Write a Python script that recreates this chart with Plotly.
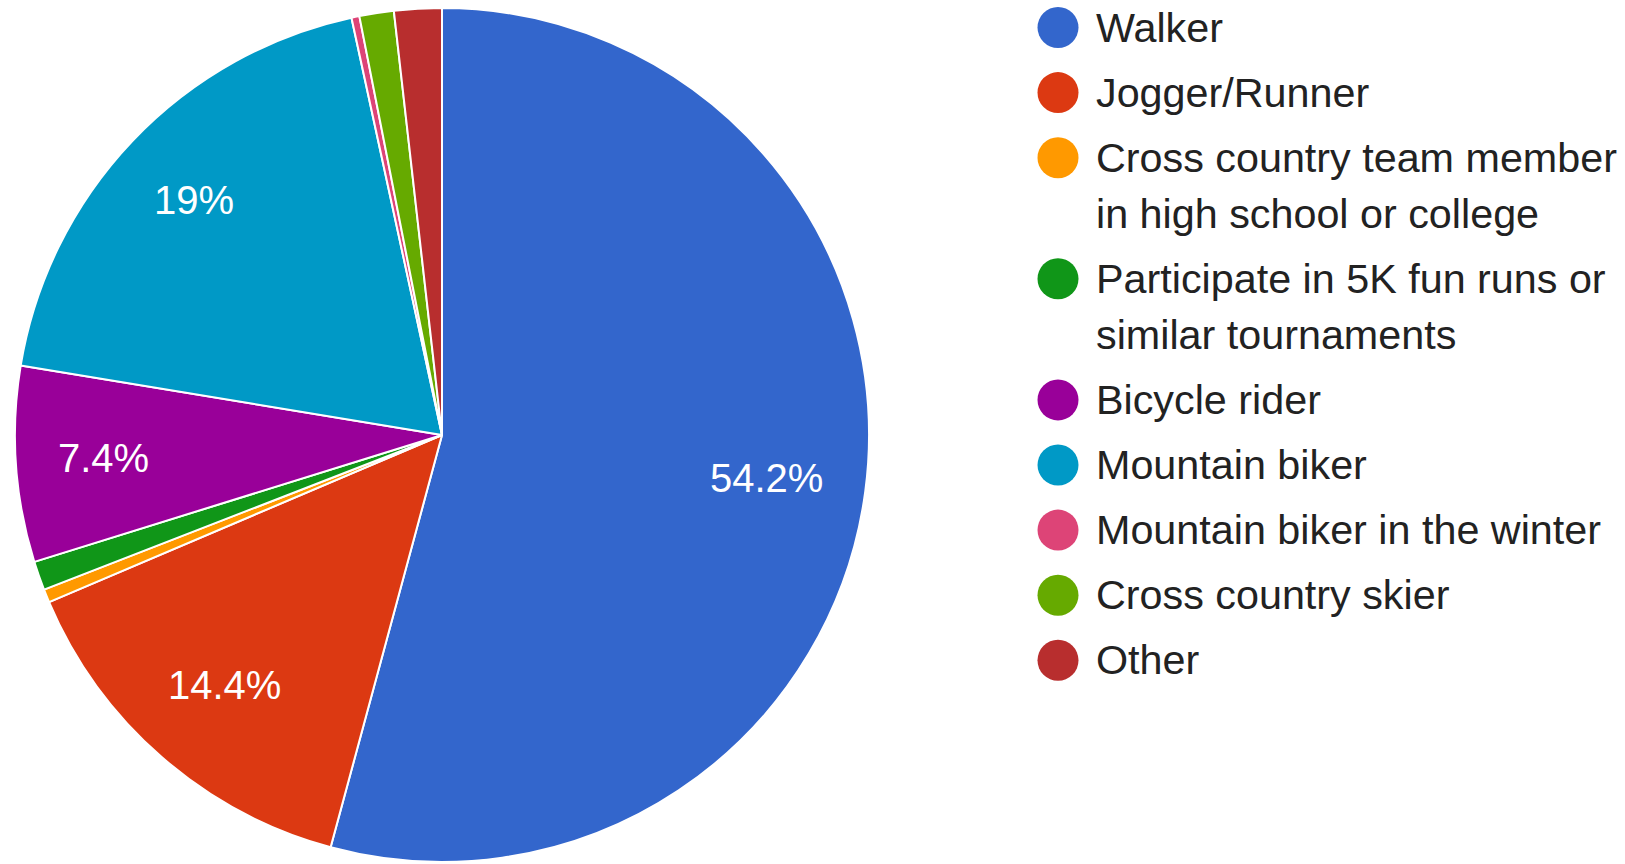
import math
import plotly.graph_objects as go

# ---- data ----
categories = [
    "Walker",
    "Jogger/Runner",
    "Cross country team member in high school or college",
    "Participate in 5K fun runs or similar tournaments",
    "Bicycle rider",
    "Mountain biker",
    "Mountain biker in the winter",
    "Cross country skier",
    "Other",
]
legend_lines = [
    ["Walker"],
    ["Jogger/Runner"],
    ["Cross country team member", "in high school or college"],
    ["Participate in 5K fun runs or", "similar tournaments"],
    ["Bicycle rider"],
    ["Mountain biker"],
    ["Mountain biker in the winter"],
    ["Cross country skier"],
    ["Other"],
]
shares = [54.2, 14.4, 0.5, 1.1, 7.4, 19.0, 0.3, 1.3, 1.8]
colors = ["#3366cc", "#dc3912", "#ff9900", "#109618", "#990099",
          "#0099c6", "#dd4477", "#66aa00", "#b82e2e"]

# ---- style / layout ----
W, H = 1625, 864
FONT = "Liberation Sans, Arial, sans-serif"
LABEL_FS = 40
LEGEND_FS = 41.3
TEXT_COLOR = "#222222"
PIE_CX, PIE_CY, PIE_R = 442, 435, 427
LABEL_OUTER = 0.905          # outer edge of label box, fraction of radius
LEGEND_X = 1058
LEGEND_TEXT_X = 1094
LEGEND_TOP = 27.5
ITEM_GAP = 65.1
LINE_GAP = 56

# approximate Arial glyph advance widths (em) for label sizing
CHAR_W = {".": 0.278, "%": 0.889}


def text_width(s, fs):
    return sum(CHAR_W.get(c, 0.556) for c in s) * fs


fig = go.Figure()
fig.add_trace(go.Pie(
    labels=categories,
    values=shares,
    textinfo="none",
    marker=dict(colors=colors, line=dict(color="white", width=2)),
    sort=False,
    direction="clockwise",
    rotation=0,
    domain=dict(x=[(PIE_CX - PIE_R) / W, (PIE_CX + PIE_R) / W],
                y=[1 - (PIE_CY + PIE_R) / H, 1 - (PIE_CY - PIE_R) / H]),
    showlegend=False,
    hoverinfo="label+percent",
))

ann = []
# percentage labels at slice mid-angles
total = sum(shares)
cum = 0.0
for v in shares:
    mid = (cum + v / 2) / total * 2 * math.pi
    cum += v
    if v < 5:
        continue
    txt = f"{v:g}%"
    half_w = text_width(txt, LABEL_FS) / 2
    half_h = 0.575 * LABEL_FS
    s, c = math.sin(mid), math.cos(mid)
    rc = LABEL_OUTER * PIE_R - (half_w * abs(s) + half_h * abs(c))
    ann.append(dict(
        x=PIE_CX + rc * s,
        y=PIE_CY - rc * c,
        xref="x", yref="y", text=txt, showarrow=False,
        xanchor="center", yanchor="middle",
        font=dict(family=FONT, size=LABEL_FS, color="white")))

# legend drawn as markers + text
marker_y = []
y = LEGEND_TOP
for lines in legend_lines:
    marker_y.append(y)
    for j, line in enumerate(lines):
        ann.append(dict(x=LEGEND_TEXT_X, y=y, xref="x", yref="y", text=line,
                        xanchor="left", yanchor="middle", showarrow=False,
                        font=dict(family=FONT, size=LEGEND_FS, color=TEXT_COLOR)))
        if j < len(lines) - 1:
            y += LINE_GAP
    y += ITEM_GAP

fig.add_trace(go.Scatter(
    x=[LEGEND_X] * len(categories),
    y=marker_y,
    mode="markers",
    marker=dict(size=41, color=colors, line=dict(width=0)),
    showlegend=False,
    hoverinfo="skip",
))

fig.update_layout(
    width=W, height=H,
    margin=dict(l=0, r=0, t=0, b=0),
    paper_bgcolor="white",
    plot_bgcolor="white",
    xaxis=dict(range=[0, W], visible=False, domain=[0, 1], fixedrange=True),
    yaxis=dict(range=[H, 0], visible=False, domain=[0, 1], fixedrange=True),
    annotations=ann,
    font=dict(family=FONT),
)

fig.write_html("out.html",
               config={"displayModeBar": False},
               post_script="document.body.style.margin='0';document.body.style.overflow='hidden';")
